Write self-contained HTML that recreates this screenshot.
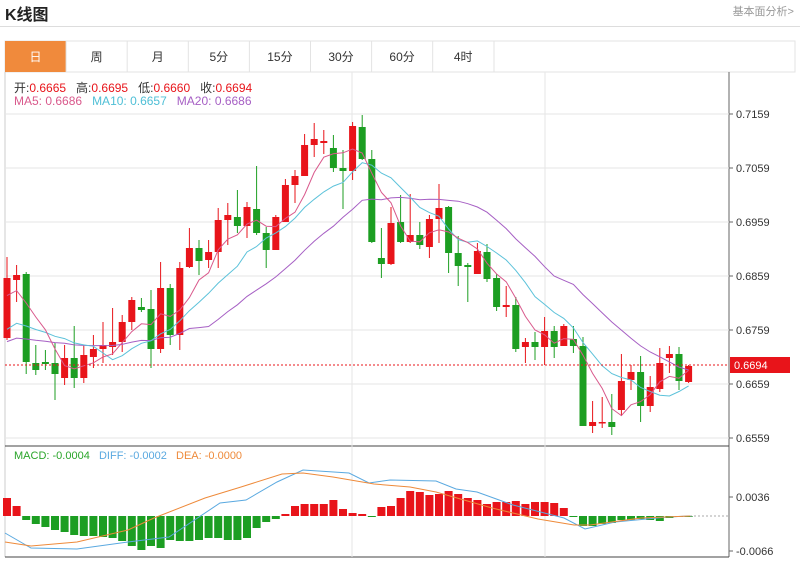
<!DOCTYPE html>
<html><head><meta charset="utf-8">
<style>
body{margin:0;width:800px;height:561px;background:#fff;overflow:hidden;font-family:"Liberation Sans","Noto Sans CJK SC",sans-serif;position:relative}
.t{position:absolute;white-space:nowrap}
</style></head><body>
<div class="t" style="left:5px;top:1px;font-size:16px;font-weight:bold;color:#222">K线图</div>
<div class="t" style="right:6px;top:3px;font-size:11px;color:#999">基本面分析&gt;</div>
<div style="position:absolute;left:0;top:26px;width:800px;height:1px;background:#ddd"></div>
<svg width="800" height="561" style="position:absolute;left:0;top:0" id="s"></svg>
<script>
var NS="http://www.w3.org/2000/svg",S=document.getElementById('s');
function el(n,a,t){var e=document.createElementNS(NS,n);for(var k in a)e.setAttribute(k,a[k]);if(t!=null)e.textContent=t;S.appendChild(e);return e;}
// tabs
var tabs=["日","周","月","5分","15分","30分","60分","4时"];
el('rect',{x:5,y:41,width:790,height:31,fill:'#fff',stroke:'#e3e3e3'});
for(var i=0;i<8;i++){var x=5+i*61.1;
 if(i==0)el('rect',{x:x,y:41,width:61,height:31,fill:'#f08a3c'});
 else el('line',{x1:x,y1:41,x2:x,y2:72,stroke:'#e3e3e3'});
 el('text',{x:x+30.5,y:61,'text-anchor':'middle','font-size':12,fill:i==0?'#fff':'#333'},tabs[i]);}
el('line',{x1:494,y1:41,x2:494,y2:72,stroke:'#e3e3e3'});
// frame
el('line',{x1:5,y1:72,x2:5,y2:557,stroke:'#ccc'});
el('line',{x1:729,y1:72,x2:729,y2:557,stroke:'#666'});
el('line',{x1:5,y1:446,x2:729,y2:446,stroke:'#444'});
el('line',{x1:5,y1:557,x2:729,y2:557,stroke:'#444'});
[352,545].forEach(function(x){el('line',{x1:x,y1:72,x2:x,y2:557,stroke:'#e6e6e6'});});
var lv=["0.7159","0.7059","0.6959","0.6859","0.6759","0.6659","0.6559"];
lv.forEach(function(l,i){var y=114+i*54;el('line',{x1:5,y1:y,x2:729,y2:y,stroke:'#e6e6e6'});el('line',{x1:729,y1:y,x2:733,y2:y,stroke:'#666'});
 el('text',{x:736,y:y+4,'font-size':11,fill:'#333'},l);});
// candles: [top,bottom,wickTop,wickBot,red?]
var C=[[278,338,257,340,1],[275,280,265,302,1],[274,362,272,374,0],[363,370,345,375,0],[362,364,350,370,0],[363,374,343,400,0],[358,378,345,385,1],[358,378,326,388,0],[355,378,345,383,1],[349,357,335,368,1],[345,349,322,363,1],[342,347,308,355,1],[322,342,315,352,1],[300,322,297,330,1],[307,310,298,312,0],[309,349,290,368,0],[288,349,262,353,1],[288,335,284,345,0],[268,335,262,350,1],[248,267,228,268,1],[248,261,240,275,0],[252,260,240,268,1],[220,252,208,268,1],[215,220,203,245,1],[217,226,190,233,0],[207,226,202,238,1],[209,233,166,235,0],[233,250,227,268,0],[217,250,215,250,1],[185,222,179,222,1],[176,185,170,203,1],[145,176,134,176,1],[139,145,123,157,1],[141,143,130,154,1],[148,168,135,172,0],[168,171,150,209,0],[126,171,122,180,1],[127,159,115,160,0],[159,242,150,243,0],[258,264,228,278,0],[223,264,207,265,1],[222,242,195,243,0],[235,242,194,243,1],[235,245,222,249,0],[219,247,215,258,1],[208,219,184,243,1],[207,253,206,273,0],[253,266,236,286,0],[265,267,263,302,0],[251,274,243,274,1],[252,279,244,282,0],[278,307,274,311,0],[305,307,286,317,1],[305,349,297,352,0],[342,347,338,363,1],[342,347,332,360,0],[331,347,317,365,1],[331,347,326,358,0],[326,346,324,346,1],[339,346,326,353,0],[346,426,337,426,0],[422,426,401,433,1],[422,423,397,428,1],[422,427,394,435,0],[381,410,354,416,1],[372,380,365,390,1],[372,406,356,422,0],[387,406,376,412,1],[363,389,348,392,1],[354,358,346,373,1],[354,381,347,390,0],[366,382,365,383,1]];
var R='#e8141a',G='#1c9e22';
var X=function(i){return 7+i*9.6;};
var cl=C.map(function(c){return c[4]?c[0]:c[1];});
function ma(n,col){var p=[];for(var i=0;i<cl.length;i++){var s=0,k=0;for(var j=Math.max(0,i-n+1);j<=i;j++){s+=cl[j];k++;}
 var v=s/k; if(n==20&&i<19)v=(s+(20-k)*345)/20; if(n==10&&i<9)v=(s+(10-k)*335)/10; if(n==5&&i<4)v=(s+(5-k)*300)/5;
 p.push(X(i).toFixed(1)+','+v.toFixed(1));}
 el('polyline',{points:p.join(' '),fill:'none',stroke:col,'stroke-width':1});}
C.forEach(function(c,i){var x=X(i),col=c[4]?R:G;
 el('line',{x1:x,y1:c[2],x2:x,y2:c[3],stroke:col,'stroke-width':1});
 el('rect',{x:x-3.5,y:c[0],width:7,height:Math.max(1.5,c[1]-c[0]),fill:col});});
ma(20,'#a65fc4');ma(10,'#5cc2da');ma(5,'#d9598c');
el('line',{x1:5,y1:365,x2:729,y2:365,stroke:'#e8141a','stroke-dasharray':'2,2'});
el('rect',{x:730,y:357,width:60,height:16,fill:'#e8141a'});
el('text',{x:734,y:369,'font-size':11,fill:'#fff'},'0.6694');
// legend
el('rect',{x:6,y:73,width:345,height:38,fill:'#fff'});
// MACD
var H=[-18,-10,4,8,11,14,16,19,20,20,21,22,25,30,34,30,32,24,25,25,24,22,22,24,24,22,12,6,3,-2,-10,-12,-12,-12,-16,-7,-3,-2,1,-9,-10,-18,-25,-24,-21,-22,-25,-22,-18,-16,-12,-14,-14,-15,-12,-14,-14,-13,-8,1,10,10,8,7,4,4,3,4,5,2,0,1];
H.forEach(function(h,i){var x=X(i);var y=h<0?516+h:516;el('rect',{x:x-4,y:y,width:8,height:Math.max(1,Math.abs(h)),fill:h<0?R:G});});
el('polyline',{points:"5,533 31,548 77,549 128,542 169,537 220,503 246,500 277,482 303,470 349,473 369,483 390,480 436,481 456,489 477,492 513,505 564,518 585,529 615,522 667,517 690,516",fill:'none',stroke:'#5aa9e0'});
el('polyline',{points:"5,542 31,546 77,542 128,530 154,518 205,498 241,487 282,474 303,473 333,477 374,484 410,487 436,492 492,508 538,519 574,525 590,525 641,518 690,516",fill:'none',stroke:'#ee8a3a'});
el('line',{x1:690,y1:516,x2:729,y2:516,stroke:'#aaa','stroke-dasharray':'2,2'});
[[497,"0.0036"],[551,"-0.0066"]].forEach(function(a){el('line',{x1:729,y1:a[0],x2:733,y2:a[0],stroke:'#666'});el('text',{x:736,y:a[0]+4,'font-size':11,fill:'#333'},a[1]);});
</script>
<div class="t" style="left:14px;top:79px;font-size:12px;color:#333">开:<span style="color:#e8141a">0.6665</span>&nbsp;&nbsp; 高:<span style="color:#e8141a">0.6695</span>&nbsp;&nbsp; 低:<span style="color:#e8141a">0.6660</span>&nbsp;&nbsp; 收:<span style="color:#e8141a">0.6694</span></div>
<div class="t" style="left:14px;top:94px;font-size:12px"><span style="color:#d9598c">MA5: 0.6686</span>&nbsp;&nbsp; <span style="color:#4fbfd6">MA10: 0.6657</span>&nbsp;&nbsp; <span style="color:#a65fc4">MA20: 0.6686</span></div>
<div class="t" style="left:14px;top:450px;font-size:11px"><span style="color:#2aa52a">MACD: -0.0004</span>&nbsp;&nbsp; <span style="color:#5aa9e0">DIFF: -0.0002</span>&nbsp;&nbsp; <span style="color:#ee8a3a">DEA: -0.0000</span></div>
</body></html>
